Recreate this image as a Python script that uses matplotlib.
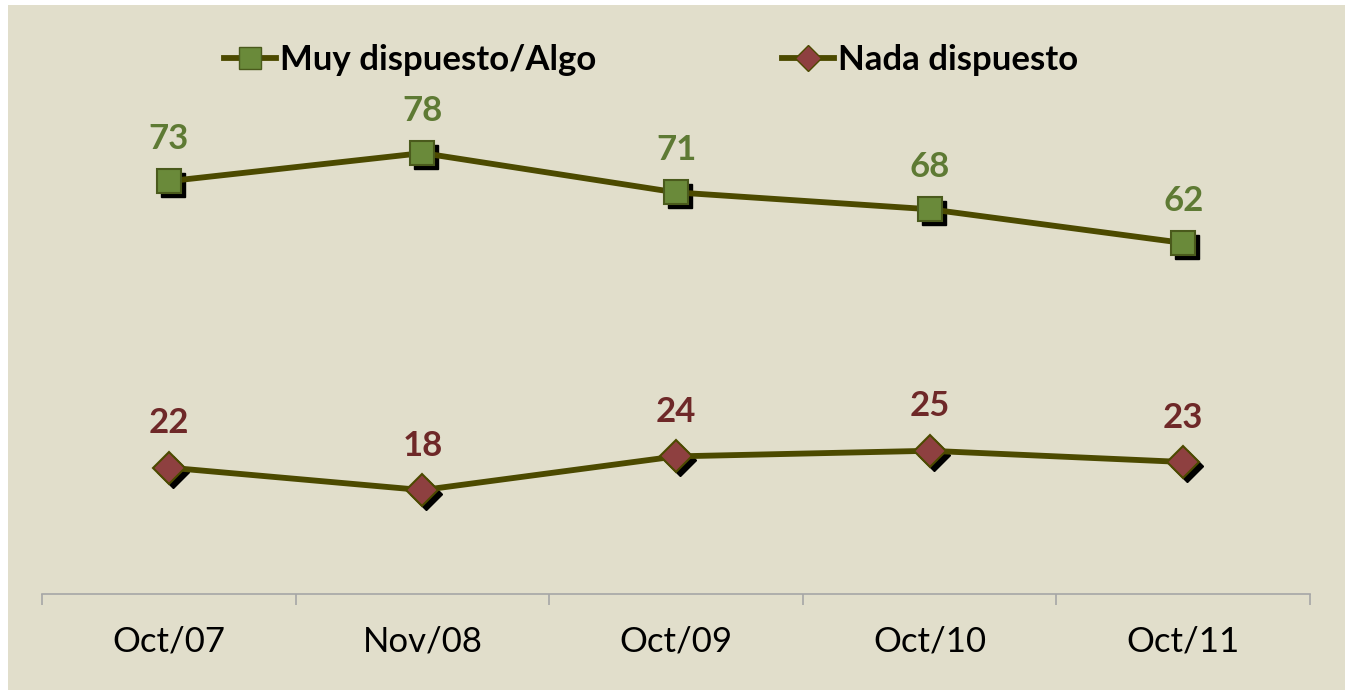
import matplotlib.pyplot as plt
import matplotlib.transforms as mtransforms
from matplotlib.patches import Rectangle
from matplotlib.lines import Line2D

periods = ["Oct/07", "Nov/08", "Oct/09", "Oct/10", "Oct/11"]
dispuesto = [73, 78, 71, 68, 62]
nada = [22, 18, 24, 25, 23]

LINE = '#4C4A00'
GREEN = '#6A8A3A'
GREEN_TXT = '#5E7A34'
RED = '#8E4040'
RED_TXT = '#6E2828'

plt.rcParams['font.family'] = ['Lato', 'DejaVu Sans']

fig = plt.figure(figsize=(13.49, 6.92), dpi=100, facecolor='white')
fig.patches.append(Rectangle((8/1349, 1-690/692), (1345-8)/1349, (690-5)/692,
                             transform=fig.transFigure, facecolor='#E1DECB',
                             edgecolor='none', zorder=-5))
ax = fig.add_axes([42/1349, 1-594/692, (1310-42)/1349, (594-34)/692])
ax.set_facecolor('none')
ax.set_zorder(2)

x = list(range(len(periods)))
shadow = mtransforms.offset_copy(ax.transData, fig=fig, x=4, y=-4, units='dots')

# shadows under the markers
ax.plot(x, dispuesto, 's', ms=17, color='black', transform=shadow, zorder=2)
ax.plot(x, nada, 'D', ms=16, color='black', transform=shadow, zorder=2)

ax.plot(x, dispuesto, '-', lw=4.2, color=LINE, zorder=3, solid_capstyle='round')
ax.plot(x, nada, '-', lw=4.2, color=LINE, zorder=3, solid_capstyle='round')
ax.plot(x, dispuesto, 's', ms=17, mfc=GREEN, mec='#4A5A1C', mew=1.5, zorder=4)
ax.plot(x, nada, 'D', ms=16, mfc=RED, mec=LINE, mew=1.5, zorder=4)

for xi, v in zip(x, dispuesto):
    ax.annotate(str(v), (xi, v), xytext=(0, 30.5), textcoords='offset points',
                ha='center', va='center', fontsize=25, fontweight='bold', color=GREEN_TXT)
for xi, v in zip(x, nada):
    ax.annotate(str(v), (xi, v), xytext=(0, 32), textcoords='offset points',
                ha='center', va='center', fontsize=25, fontweight='bold', color=RED_TXT)

ax.set_xlim(-0.5, len(periods) - 0.5)
ax.set_ylim(-0.5, 99.2)
ax.set_yticks([])
for s in ['top', 'right', 'left']:
    ax.spines[s].set_visible(False)
ax.spines['bottom'].set_color('#A6A6A6')
ax.spines['bottom'].set_linewidth(1.2)
ax.set_xticks(x)
ax.set_xticklabels(periods, fontsize=25)
ax.set_xticks([i - 0.5 for i in range(len(periods) + 1)], minor=True)
ax.tick_params(axis='x', which='major', length=0, pad=23)
ax.tick_params(axis='x', which='minor', length=8, width=1.2, color='#A6A6A6')

handles = [
    Line2D([], [], color=LINE, lw=4.2, marker='s', ms=16, mfc=GREEN, mec='#4A5A1C'),
    Line2D([], [], color=LINE, lw=4.2, marker='D', ms=13, mfc=RED, mec=LINE),
]
leg = fig.legend(handles, ['Muy dispuesto/Algo', 'Nada dispuesto'], ncol=2,
                 loc='center', bbox_to_anchor=(651/1349, 1-60/692), frameon=False,
                 handlelength=1.5, handletextpad=0.1, columnspacing=5.35,
                 prop={'size': 25, 'weight': 'bold'})

fig.savefig('out.png', dpi=100)
